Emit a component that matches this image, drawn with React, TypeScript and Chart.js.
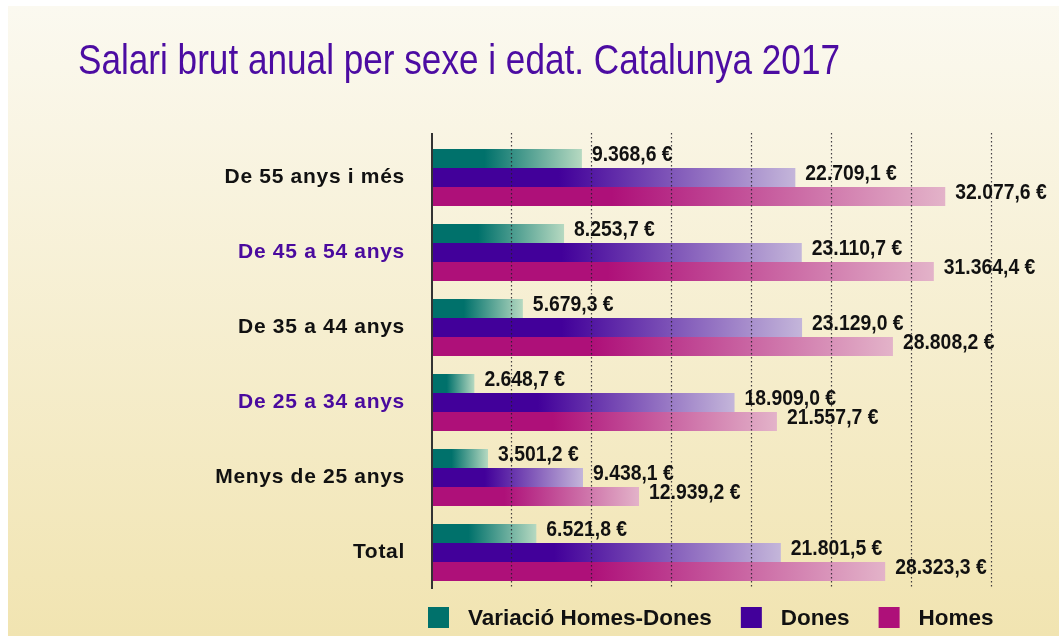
import { useEffect, useRef } from 'react';
import { Chart, registerables } from 'chart.js';

Chart.register(...registerables);

const TITLE = 'Salari brut anual per sexe i edat. Catalunya 2017';
const CATEGORIES = [
  'De 55 anys i més',
  'De 45 a 54 anys',
  'De 35 a 44 anys',
  'De 25 a 34 anys',
  'Menys de 25 anys',
  'Total',
];
const SERIES_NAMES = ['Variació Homes-Dones', 'Dones', 'Homes'];
const VARIACIO = [9368.6, 8253.7, 5679.3, 2648.7, 3501.2, 6521.8];
const DONES = [22709.1, 23110.7, 23129.0, 18909.0, 9438.1, 21801.5];
const HOMES = [32077.6, 31364.4, 28808.2, 21557.7, 12939.2, 28323.3];
const X_MAX = 35000;
const X_STEP = 5000;

// styles
const SOLID = ['#00716b', '#42009a', '#ae1079'];
const LIGHT = ['#b6d9c1', '#c4b6da', '#e3b3c9'];
const TITLE_COLOR = '#4c0ca2';
const LABEL_COLORS = ['#111111', '#4a0a9e', '#111111', '#4a0a9e', '#111111', '#111111'];
const FONT = '"Liberation Sans", Arial, Helvetica, sans-serif';

function fmt(v: number): string {
  const [i, d] = v.toFixed(1).split('.');
  return i.replace(/\B(?=(\d{3})+(?!\d))/g, '.') + ',' + d + ' €';
}

function gradientFor(si: number) {
  return (ctx: any) => {
    const chart = ctx.chart;
    const xs = chart.scales && chart.scales.x;
    if (ctx.type !== 'data' || !xs || !chart.chartArea) return SOLID[si];
    const x0 = xs.getPixelForValue(0);
    const x1 = xs.getPixelForValue(ctx.raw);
    if (!isFinite(x0) || !isFinite(x1) || x1 - x0 < 2) return SOLID[si];
    const g = chart.ctx.createLinearGradient(x0, 0, x1, 0);
    g.addColorStop(0, SOLID[si]);
    g.addColorStop(0.35, SOLID[si]);
    g.addColorStop(1, LIGHT[si]);
    return g;
  };
}

const decor = {
  id: 'decor',
  beforeDraw(chart: any) {
    const { ctx, width, height } = chart;
    ctx.save();
    ctx.fillStyle = '#ffffff';
    ctx.fillRect(0, 0, width, height);
    const g = ctx.createLinearGradient(0, 6, 0, height);
    g.addColorStop(0, '#fbf9f0');
    g.addColorStop(1, '#f1e4b1');
    ctx.fillStyle = g;
    ctx.fillRect(8, 6, width - 8, height - 6);
    // title
    ctx.font = '43px ' + FONT;
    const w = ctx.measureText(TITLE).width;
    ctx.translate(78, 74);
    ctx.scale(762 / w, 1);
    ctx.fillStyle = TITLE_COLOR;
    ctx.textBaseline = 'alphabetic';
    ctx.textAlign = 'left';
    ctx.fillText(TITLE, 0, 0);
    ctx.restore();
    try { ctx.letterSpacing = '0.7px'; } catch (e) { /* ignore */ }
  },
  beforeDatasetsDraw(chart: any) {
    try { chart.ctx.letterSpacing = '0px'; } catch (e) { /* ignore */ }
  },
  afterDatasetsDraw(chart: any) {
    const { ctx, chartArea } = chart;
    const xs = chart.scales.x;
    const top = chartArea.top - 7;
    const bottom = chartArea.bottom - 1;
    ctx.save();
    ctx.strokeStyle = 'rgba(35,30,40,0.85)';
    ctx.lineWidth = 1.2;
    ctx.setLineDash([1.5, 2.5]);
    for (let v = X_STEP; v <= X_MAX; v += X_STEP) {
      const x = Math.round(xs.getPixelForValue(v)) - 0.5;
      ctx.beginPath();
      ctx.moveTo(x, top);
      ctx.lineTo(x, bottom);
      ctx.stroke();
    }
    ctx.setLineDash([]);
    ctx.strokeStyle = '#333333';
    ctx.lineWidth = 2;
    const x0 = xs.getPixelForValue(0);
    ctx.beginPath();
    ctx.moveTo(x0, top);
    ctx.lineTo(x0, bottom);
    ctx.stroke();

    // value labels
    ctx.font = 'bold 22px ' + FONT;
    ctx.fillStyle = '#111111';
    ctx.textBaseline = 'middle';
    ctx.textAlign = 'left';
    chart.data.datasets.forEach((ds: any, di: number) => {
      const meta = chart.getDatasetMeta(di);
      meta.data.forEach((el: any, i: number) => {
        ctx.save();
        ctx.translate(el.x + 10, el.y - 4);
        ctx.scale(0.88, 1);
        ctx.fillText(fmt(ds.data[i]), 0, 0);
        ctx.restore();
      });
    });
    ctx.restore();
  },
  afterDraw(chart: any) {
    const { ctx } = chart;
    ctx.save();
    ctx.font = 'bold 22.5px ' + FONT;
    ctx.textBaseline = 'middle';
    ctx.textAlign = 'left';
    let x = 428;
    const y = 607;
    const box = 21;
    SERIES_NAMES.forEach((name, i) => {
      ctx.fillStyle = SOLID[i];
      ctx.fillRect(x, y, box, box);
      ctx.fillStyle = '#111111';
      ctx.fillText(name, x + box + 19, y + box / 2 + 1);
      x += box + 19 + ctx.measureText(name).width + 29;
    });
    ctx.restore();
  },
};

export default function App() {
  const ref = useRef<HTMLCanvasElement>(null);
  useEffect(() => {
    if (!ref.current) return;
    const chart = new Chart(ref.current, {
      type: 'bar',
      data: {
        labels: CATEGORIES,
        datasets: [
          { label: SERIES_NAMES[0], data: VARIACIO, backgroundColor: gradientFor(0) as any },
          { label: SERIES_NAMES[1], data: DONES, backgroundColor: gradientFor(1) as any },
          { label: SERIES_NAMES[2], data: HOMES, backgroundColor: gradientFor(2) as any },
        ],
      },
      options: {
        indexAxis: 'y',
        responsive: false,
        animation: false,
        devicePixelRatio: 1,
        layout: { padding: { top: 140, bottom: 46, left: 0, right: 67 } },
        datasets: { bar: { barPercentage: 1, categoryPercentage: 0.76, borderWidth: 0 } },
        plugins: {
          legend: { display: false },
          title: { display: false },
          tooltip: { enabled: false },
        },
        scales: {
          x: { type: 'linear', min: 0, max: X_MAX, display: false },
          y: {
            type: 'category',
            grid: { display: false, drawTicks: false },
            border: { display: false },
            ticks: {
              autoSkip: false,
              padding: 27,
              font: { family: FONT, size: 21, weight: 'bold' },
              color: (c: any) => LABEL_COLORS[c.index] || '#111111',
            },
            afterFit: (scale: any) => { scale.width = 432; },
          },
        },
      },
      plugins: [decor],
    });
    return () => chart.destroy();
  }, []);
  return (
    <div style={{ position: 'absolute', left: 0, top: 0, width: 1059, height: 636 }}>
      <canvas ref={ref} width={1059} height={636} style={{ display: 'block' }} />
    </div>
  );
}
